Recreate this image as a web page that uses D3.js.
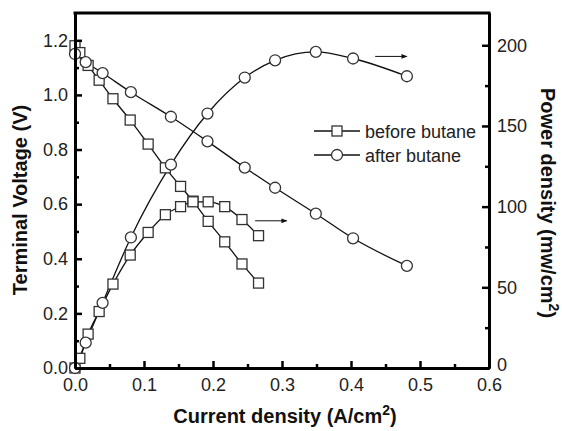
<!DOCTYPE html>
<html>
<head>
<meta charset="utf-8">
<script src="https://cdn.jsdelivr.net/npm/d3@7"></script>
<style>
  body { margin: 0; background: #fff; }
  svg { font-family: 'Liberation Sans', Arial, sans-serif; }
</style>
</head>
<body>
<div id="container"></div>
<script>
const w = 562,
  h = 431,
  plotLeft = 75,
  plotRight = 489,
  plotTop = 13,
  plotBottom = 368;

// before butane (squares)
const beforeCurrent = [0, 0.007, 0.019, 0.035, 0.055, 0.08, 0.106, 0.131, 0.153, 0.171, 0.193, 0.217, 0.242, 0.266];
const beforeVoltage = [1.18, 1.155, 1.108, 1.054, 0.986, 0.908, 0.82, 0.733, 0.665, 0.611, 0.537, 0.462, 0.381, 0.311];
const beforePower = [0, 6, 21, 35, 52, 70, 84, 95, 100, 103, 103, 100, 92, 82];

// after butane (circles)
const afterCurrent = [0, 0.0155, 0.04, 0.081, 0.139, 0.192, 0.246, 0.29, 0.349, 0.403, 0.481];
const afterVoltage = [1.15, 1.12, 1.08, 1.01, 0.92, 0.83, 0.734, 0.66, 0.565, 0.475, 0.374];
const afterPower = [0, 15.7, 40.4, 80.9, 126, 157.7, 180, 190.7, 195.9, 191.8, 180.8];

const xTicks = [0, 0.1, 0.2, 0.3, 0.4, 0.5, 0.6];
const xMinor = [0.05, 0.15, 0.25, 0.35, 0.45, 0.55];
const vTicks = [0, 0.2, 0.4, 0.6, 0.8, 1.0, 1.2];
const vMinor = [0.1, 0.3, 0.5, 0.7, 0.9, 1.1];
const pTicks = [0, 50, 100, 150, 200];
const pMinor = [25, 75, 125, 175];

// arrows pointing at the power axis (data units: current, voltage)
const arrows = [
  { x1: 0.435, x2: 0.481, v: 1.141 },
  { x1: 0.261, x2: 0.307, v: 0.539 },
];

const svg = d3
  .select('#container')
  .append('svg')
  .attr('width', w)
  .attr('height', h);

const xScale = d3.scaleLinear().domain([0, 0.6]).range([plotLeft, plotRight]);
const vScale = d3.scaleLinear().domain([0, 1.3]).range([plotBottom, plotTop]);
const pScale = d3.scaleLinear().domain([0, 220]).range([plotBottom, plotTop]);

const series = [
  { cur: beforeCurrent, val: beforeVoltage, scale: vScale, marker: 'square' },
  { cur: beforeCurrent, val: beforePower, scale: pScale, marker: 'square' },
  { cur: afterCurrent, val: afterVoltage, scale: vScale, marker: 'circle' },
  { cur: afterCurrent, val: afterPower, scale: pScale, marker: 'circle' },
];

series.forEach((s) => {
  const pts = s.cur.map((c, i) => [c, s.val[i]]);
  const line = d3
    .line()
    .x((d) => xScale(d[0]))
    .y((d) => s.scale(d[1]))
    .curve(d3.curveMonotoneX);
  svg
    .append('path')
    .attr('d', line(pts))
    .attr('fill', 'none')
    .attr('stroke', '#111')
    .attr('stroke-width', 1.3);
  s.pts = pts;
});

series.forEach((s) => {
  const g = svg.append('g');
  if (s.marker === 'square') {
    g.selectAll('rect')
      .data(s.pts)
      .enter()
      .append('rect')
      .attr('x', (d) => xScale(d[0]) - 5)
      .attr('y', (d) => s.scale(d[1]) - 5)
      .attr('width', 10)
      .attr('height', 10)
      .attr('fill', '#fff')
      .attr('stroke', '#333')
      .attr('stroke-width', 1.3);
  } else {
    g.selectAll('circle')
      .data(s.pts)
      .enter()
      .append('circle')
      .attr('cx', (d) => xScale(d[0]))
      .attr('cy', (d) => s.scale(d[1]))
      .attr('r', 5.5)
      .attr('fill', '#fff')
      .attr('stroke', '#333')
      .attr('stroke-width', 1.3);
  }
});

// arrows
svg
  .append('defs')
  .append('marker')
  .attr('id', 'head')
  .attr('viewBox', '0 0 10 10')
  .attr('refX', 9)
  .attr('refY', 5)
  .attr('markerWidth', 7)
  .attr('markerHeight', 6)
  .attr('markerUnits', 'userSpaceOnUse')
  .attr('orient', 'auto')
  .append('path')
  .attr('d', 'M0,1L10,5L0,9Z')
  .attr('fill', '#111');

svg
  .selectAll('.arrow')
  .data(arrows)
  .enter()
  .append('line')
  .attr('class', 'arrow')
  .attr('x1', (d) => xScale(d.x1))
  .attr('x2', (d) => xScale(d.x2))
  .attr('y1', (d) => vScale(d.v))
  .attr('y2', (d) => vScale(d.v))
  .attr('stroke', '#111')
  .attr('stroke-width', 1)
  .attr('marker-end', 'url(#head)');

// axes
function styleAxis(g) {
  g.select('.domain').attr('stroke-width', 3).attr('stroke', '#000');
  g.selectAll('.tick line').attr('stroke-width', 2.5).attr('stroke', '#000');
  g.selectAll('.tick text').attr('font-size', 18).attr('fill', '#222');
}

svg
  .append('g')
  .attr('transform', 'translate(0,' + plotBottom + ')')
  .call(d3.axisBottom(xScale).tickValues(xTicks).tickFormat(d3.format('.1f')).tickSize(-7).tickSizeOuter(0).tickPadding(10))
  .call(styleAxis);
svg
  .append('g')
  .attr('transform', 'translate(0,' + plotBottom + ')')
  .call(d3.axisBottom(xScale).tickValues(xMinor).tickFormat('').tickSize(-4).tickSizeOuter(0))
  .call(styleAxis);

svg
  .append('g')
  .attr('transform', 'translate(' + plotLeft + ',0)')
  .call(d3.axisLeft(vScale).tickValues(vTicks).tickFormat(d3.format('.1f')).tickSize(-7).tickSizeOuter(0).tickPadding(7))
  .call(styleAxis);
svg
  .append('g')
  .attr('transform', 'translate(' + plotLeft + ',0)')
  .call(d3.axisLeft(vScale).tickValues(vMinor).tickFormat('').tickSize(-4).tickSizeOuter(0))
  .call(styleAxis);

const rightAxis = svg
  .append('g')
  .attr('transform', 'translate(' + plotRight + ',0)')
  .call(d3.axisRight(pScale).tickValues(pTicks).tickFormat(d3.format('d')).tickSize(-7).tickSizeOuter(0).tickPadding(8))
  .call(styleAxis);
// lift the bottom "0" a little so it clears the "0.6" below it
rightAxis
  .selectAll('.tick text')
  .filter((d) => d === 0)
  .attr('dy', '0.15em');
svg
  .append('g')
  .attr('transform', 'translate(' + plotRight + ',0)')
  .call(d3.axisRight(pScale).tickValues(pMinor).tickFormat('').tickSize(-4).tickSizeOuter(0))
  .call(styleAxis);

svg
  .append('line')
  .attr('x1', plotLeft - 1.5)
  .attr('x2', plotRight + 1.5)
  .attr('y1', plotTop)
  .attr('y2', plotTop)
  .attr('stroke', '#000')
  .attr('stroke-width', 3);

// axis titles
const xt = svg
  .append('text')
  .attr('x', (plotLeft + plotRight) / 2 + 3)
  .attr('y', 423)
  .attr('text-anchor', 'middle')
  .attr('font-size', 20)
  .attr('font-weight', 'bold')
  .attr('fill', '#111');
xt.append('tspan').text('Current density (A/cm');
xt.append('tspan').attr('dy', -8).attr('font-size', 14).text('2');
xt.append('tspan').attr('dy', 8).text(')');

svg
  .append('text')
  .attr('transform', 'translate(27,200) rotate(-90)')
  .attr('text-anchor', 'middle')
  .attr('font-size', 20)
  .attr('font-weight', 'bold')
  .attr('fill', '#111')
  .text('Terminal Voltage (V)');

const yt = svg
  .append('text')
  .attr('transform', 'translate(541,203) rotate(90)')
  .attr('text-anchor', 'middle')
  .attr('font-size', 20)
  .attr('font-weight', 'bold')
  .attr('fill', '#111');
yt.append('tspan').text('Power density (mw/cm');
yt.append('tspan').attr('dy', -8).attr('font-size', 14).text('2');
yt.append('tspan').attr('dy', 8).text(')');

// legend
const legendItems = [
  { label: 'before butane', marker: 'square' },
  { label: 'after butane', marker: 'circle' },
];
const legend = svg
  .selectAll('.legend')
  .data(legendItems)
  .enter()
  .append('g')
  .attr('class', 'legend')
  .attr('transform', (d, i) => 'translate(314,' + (131 + i * 24) + ')');
legend
  .append('line')
  .attr('x1', 0)
  .attr('x2', 46)
  .attr('stroke', '#111')
  .attr('stroke-width', 1.3);
legend
  .filter((d) => d.marker === 'square')
  .append('rect')
  .attr('x', 18)
  .attr('y', -5)
  .attr('width', 10)
  .attr('height', 10)
  .attr('fill', '#fff')
  .attr('stroke', '#333')
  .attr('stroke-width', 1.3);
legend
  .filter((d) => d.marker === 'circle')
  .append('circle')
  .attr('cx', 23)
  .attr('r', 5.5)
  .attr('fill', '#fff')
  .attr('stroke', '#333')
  .attr('stroke-width', 1.3);
legend
  .append('text')
  .attr('x', 51)
  .attr('y', 6.5)
  .attr('font-size', 18)
  .attr('fill', '#222')
  .text((d) => d.label);
</script>
</body>
</html>
